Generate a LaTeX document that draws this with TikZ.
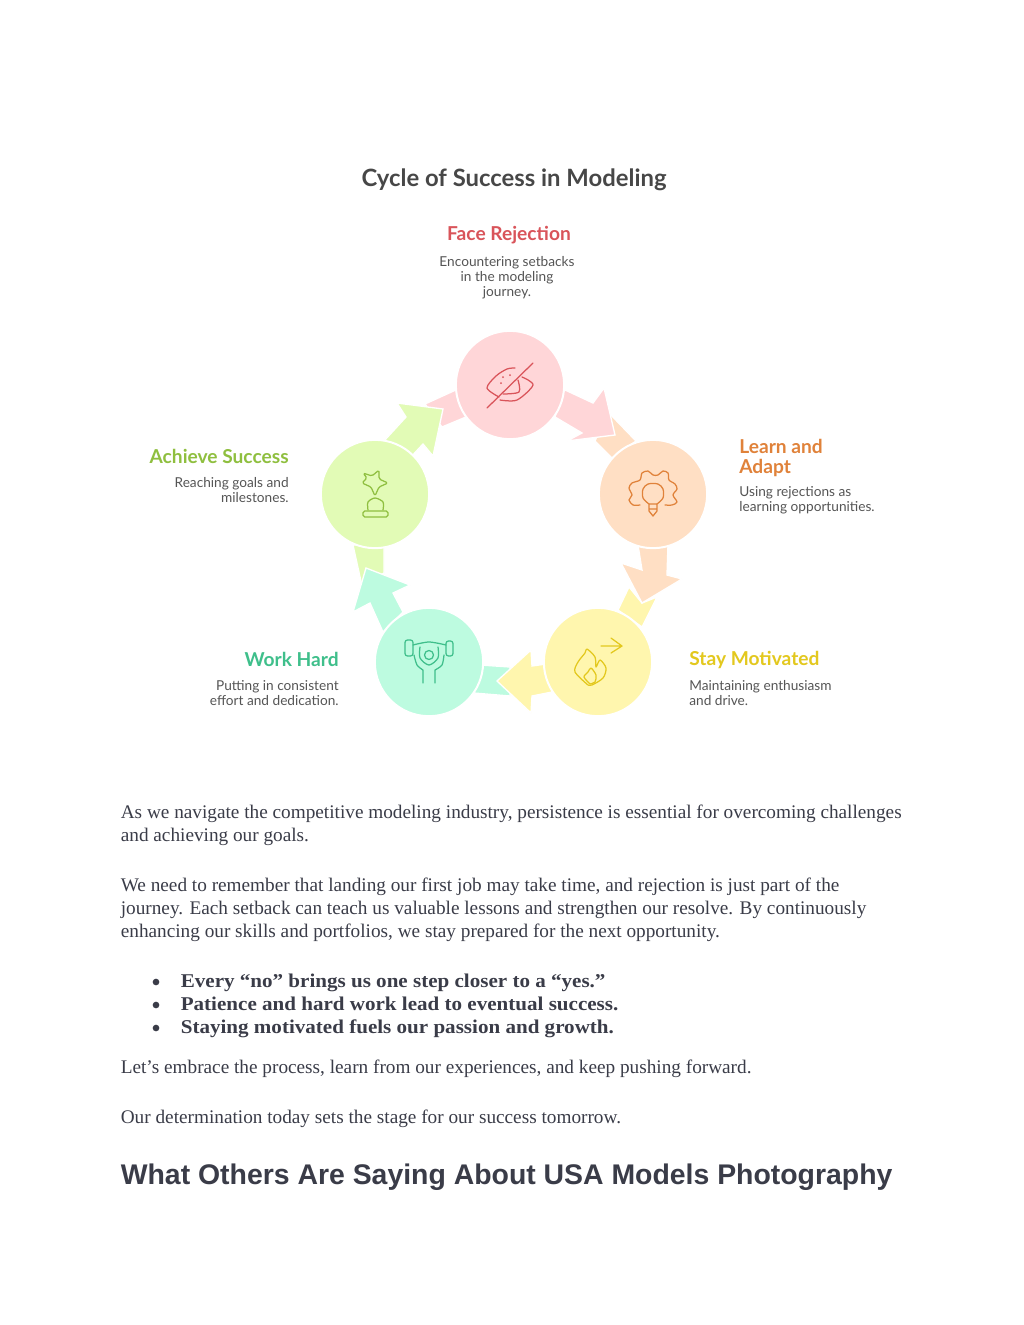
\documentclass[tikz,border=0pt]{standalone}
\usepackage{fontspec}
\setmainfont{Liberation Serif}
\newfontfamily\handfont{Lato}
\newfontfamily\headfont{Liberation Sans}
\newfontfamily\strongfont[FakeStretch=1.08]{Liberation Serif}
\definecolor{inkbody}{HTML}{3A3C48}
\definecolor{inkgrey}{HTML}{555555}
\definecolor{roseback}{HTML}{FFD6D8}
\definecolor{roseink}{HTML}{D9545A}
\definecolor{peachback}{HTML}{FFDFC4}
\definecolor{peachink}{HTML}{E0823A}
\definecolor{sunback}{HTML}{FFF6AE}
\definecolor{sunink}{HTML}{E3C81E}
\definecolor{mintback}{HTML}{BDFBE0}
\definecolor{mintink}{HTML}{3FBF8B}
\definecolor{limeback}{HTML}{E2FBB6}
\definecolor{limeink}{HTML}{8FBF3F}

\begin{document}
\begin{tikzpicture}[
    x=.6pt,y=-.6pt,
    disc/.style={circle,fill=#1,draw=white,line width=1.2pt,minimum size=65pt,inner sep=0pt},
    band/.style={fill=#1,draw=white,line width=.8pt,line join=miter},
    glyph/.style={draw=#1,line width=.75pt,line cap=round,line join=round},
    steptitle/.style={font=\handfont\bfseries\fontsize{11.5}{12}\selectfont,inner sep=0pt},
    stepnote/.style={font=\handfont\fontsize{8.2}{9}\selectfont,text=inkgrey,inner sep=0pt},
    para/.style={font=\fontsize{11.55}{13.8}\selectfont,text=inkbody,anchor=base west,inner sep=0pt},
    point/.style={para,font=\strongfont\bfseries\fontsize{11.7}{13.8}\selectfont}]
\useasboundingbox[fill=white] (0,0) rectangle (1024,1325);

% tails first, then the heads over them, then the discs
\fill[band=roseback] (425,404) -- (458,389) -- (466,417) -- (442,427) -- cycle;
\fill[band=limeback] (384,441) -- (406,417) -- (397,403) -- (443,409) -- (433,456) -- (423,444) -- (410,458) -- cycle;
\fill[band=peachback] (608,412) -- (636,441) -- (612,458) -- (595,441) -- cycle;
\fill[band=roseback] (563,389) -- (593,403) -- (604,388) -- (615,435) -- (567,441) -- (582,433) -- (555,417) -- cycle;
\fill[band=sunback] (629,587) -- (642,603) -- (657,597) -- (642,627) -- (618,610) -- cycle;
\fill[band=peachback] (638,545) -- (668,545) -- (667,575) -- (682,579) -- (642,603) -- (621,563) -- (642,570) -- cycle;
\fill[band=mintback] (480,665) -- (510,667) -- (510,696) -- (474,693) -- cycle;
\fill[band=sunback] (546,664) -- (532,666) -- (531,650) -- (497,681) -- (531,713) -- (532,696) -- (552,692) -- cycle;
\fill[band=limeback] (353,545) -- (384,545) -- (384,573) -- (362,586) -- cycle;
\fill[band=mintback] (383,632) -- (403,612) -- (393,593) -- (410,585) -- (366,568) -- (353,612) -- (370,603) -- cycle;

% discs
\node[disc=roseback] (rejection) at (510,385) {};
\node[disc=peachback] (adapt) at (653,494) {};
\node[disc=sunback] (motivated) at (598,662) {};
\node[disc=mintback] (hard) at (429,662) {};
\node[disc=limeback] (success) at (375,494) {};

% eye
\begin{scope}[shift={(rejection.center)},glyph=roseink]
\draw plot[smooth] coordinates {(5,-17) (-3,-16) (-14,-9) (-23,3) (-11,12)};
\draw plot[smooth] coordinates {(12,-8) (23,0) (7,15) (-10,15)};
\draw plot[smooth] coordinates {(8,-5) (9,7) (-7,9)};
\draw (-23,23) -- (23,-22);
\foreach \dotx/\doty in {0/-10,-7/-8,-9/-2}
  \fill[roseink] (\dotx,\doty) circle[radius=1];
\end{scope}

% gear and bulb
\begin{scope}[shift={(adapt.center)},glyph=peachink]
\draw plot[smooth] coordinates {(-13,11) (-20,11) (-24,6) (-21,1) (-24,-6) (-21,-11) (-13,-14) (-11,-21) (-5,-23) (0,-19) (5,-19) (10,-23) (15,-21) (16,-14) (22,-10) (24,-5) (20,1) (24,8) (19,11) (12,11)};
\draw plot[smooth] coordinates {(-4,10) (-10,4) (-10,-5) (-5,-10) (5,-10) (10,-5) (10,4) (4,10)};
\draw (-4,10) -- (-4,17) -- (0,22) -- (4,17) -- (4,10) (-4,10) -- (4,10) (-4,15) -- (4,15);
\end{scope}

% flame and arrow
\begin{scope}[shift={(motivated.center)},glyph=sunink]
\draw plot[smooth] coordinates {(-10,23) (-23,10) (-20,0) (-13,-9) (-11,-13) (-3,-5) (-2,5) (2,-2) (8,6) (5,16) (-6,23) (-10,23)};
\draw plot[smooth] coordinates {(-8,22) (-14,15) (-10,10) (-7,6) (-2,13) (-3,20) (-8,22)};
\draw (3,-16) -- (24,-16) (13,-24) -- (24,-16) -- (13,-9);
\end{scope}

% lifter
\begin{scope}[shift={(hard.center)},glyph=mintink]
\draw[rounded corners=1.5pt] (-24,-22) rectangle (-16,-6) (17,-21) rectangle (24,-6);
\draw plot[smooth] coordinates {(-16,-17) (0,-20) (17,-17)};
\draw (0,-7) circle[radius=4.5];
\draw plot[smooth] coordinates {(-15,-7) (-12,3) (-6,8)} -- (-6,21);
\draw plot[smooth] coordinates {(15,-7) (13,3) (6,8)} -- (6,21);
\draw plot[smooth] coordinates {(-9,-15) (-9,-4) (0,3) (9,-4) (9,-15)};
\end{scope}

% trophy
\begin{scope}[shift={(success.center)},glyph=limeink]
\draw[rounded corners=1pt] (-12,-21) -- (-3,-18) -- (4,-24) -- (4,-15) -- (13,-11) -- (4,-7) -- (0,2) -- (-4,-7) -- (-13,-11) -- (-8,-16) -- cycle;
\draw plot[smooth] coordinates {(-7,16) (-7,8) (0,4) (8,8) (8,16)};
\draw[rounded corners=1pt] (-12,17) rectangle (13,23);
\end{scope}

% texts
\node[font=\handfont\bfseries\fontsize{14.3}{15}\selectfont,text=black!72,inner sep=0pt] (title) at (514,180) {Cycle of Success in Modeling};

\node[steptitle,text=roseink] (rejectionname) at (509,235) {Face Rejection};
\node[stepnote,align=center,anchor=north] (rejectionnote) at (507,256) {Encountering setbacks\\in the modeling\\journey.};
\node[steptitle,text=peachink,align=left,anchor=north west] (adaptname) at (739,439) {Learn and\\Adapt};
\node[stepnote,align=left,anchor=north west] (adaptnote) at (739,486) {Using rejections as\\learning opportunities.};
\node[steptitle,text=sunink,anchor=west] (motivatedname) at (689,660) {Stay Motivated};
\node[stepnote,align=left,anchor=north west] (motivatednote) at (689,680) {Maintaining enthusiasm\\and drive.};
\node[steptitle,text=mintink,anchor=east] (hardname) at (339,659) {Work Hard};
\node[stepnote,align=right,anchor=north east] (hardnote) at (339,680) {Putting in consistent\\effort and dedication.};
\node[steptitle,text=limeink,anchor=east] (successname) at (289,456) {Achieve Success};
\node[stepnote,align=right,anchor=north east] (successnote) at (289,477) {Reaching goals and\\milestones.};

\node[para] (intro) at (120.5,818.5) {As we navigate the competitive modeling industry, persistence is essential for overcoming challenges};
\node[para] (intronext) at (120.5,841.5) {and achieving our goals.};
\node[para] (need) at (120.5,891.5) {We need to remember that landing our first job may take time, and rejection is just part of the};
\node[para] (needtwo) at (120.5,914.5) {journey. Each setback can teach us valuable lessons and strengthen our resolve. By continuously};
\node[para] (needthree) at (120.5,937.5) {enhancing our skills and portfolios, we stay prepared for the next opportunity.};

\foreach \ypos/\txt in {987.5/{Every “no” brings us one step closer to a “yes.”},
    1010.5/{Patience and hard work lead to eventual success.},
    1033.5/{Staying motivated fuels our passion and growth.}}{
  \node[point] at (180.5,\ypos) {\txt};
  \fill[inkbody] (156,\ypos-5.5) circle[radius=2pt];
}
\node[para] (embrace) at (120.5,1073.5) {Let’s embrace the process, learn from our experiences, and keep pushing forward.};
\node[para] (today) at (120.5,1123.5) {Our determination today sets the stage for our success tomorrow.};
\node[para,font=\headfont\bfseries\fontsize{17.04}{20}\selectfont] (others) at (120.5,1184) {What Others Are Saying About USA Models Photography};
\end{tikzpicture}
\end{document}
